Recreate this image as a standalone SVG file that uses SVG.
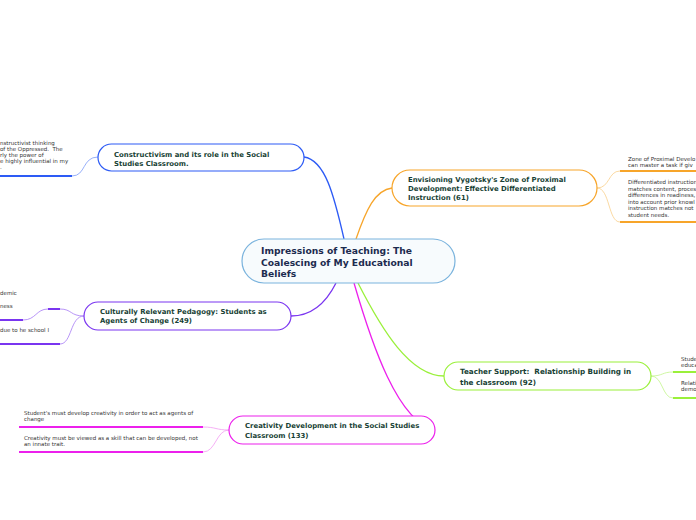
<svg xmlns="http://www.w3.org/2000/svg" width="696" height="520" viewBox="0 0 696 520">
<style>
text{white-space:pre}
.t{font-family:"DejaVu Sans",Verdana,sans-serif;font-weight:bold;font-size:6.9px;fill:#173f35}
.tb{font-size:7.2px}
.c{font-family:"DejaVu Sans",Verdana,sans-serif;font-weight:bold;font-size:9.2px;fill:#1c2b4f}
.s{font-family:"DejaVu Sans",Verdana,sans-serif;font-size:5.5px;fill:#333}
.n{fill:#fff;stroke-width:1.2}
.m{fill:none;stroke-width:1.3}
.u{fill:none;stroke-width:2}
.v{fill:none;stroke-width:0.8}
</style>
<rect width="696" height="520" fill="#fff"/>
<g id="connectors">
<path class="m" d="M344,239 C334,195 325,160 304,157" stroke="#2d5bf5"/>
<path class="m" d="M356,239 C366,210 375,190 392,188" stroke="#f7a52a"/>
<path class="m" d="M336,283 C325,305 310,316 291,316" stroke="#7a35f0"/>
<path class="m" d="M358,283 C382,330 410,376 444,376" stroke="#9af03a"/>
<path class="m" d="M354,283 C372,345 398,422 435,430" stroke="#ec20ec"/>
<path class="v" d="M98,157 C82,157 86,176 72,176" stroke="#7e9cf8"/>
<path class="u" d="M0,176 H72" stroke="#2d5bf5"/>
<path class="v" d="M597,188 C610,188 608,171 620,171" stroke="#f9cf8a"/>
<path class="v" d="M597,188 C610,188 608,222 620,222" stroke="#f9cf8a"/>
<path class="u" d="M620,171 H696" stroke="#f7a52a"/>
<path class="u" d="M620,222 H696" stroke="#f7a52a"/>
<path class="v" d="M84,316 C70,316 72,309 60,309" stroke="#a67af5"/>
<path class="u" d="M48,309 H60" stroke="#7a35f0"/>
<path class="v" d="M48,309 C36,309 36,320 23,320" stroke="#a67af5"/>
<path class="u" d="M0,320 H23" stroke="#7a35f0"/>
<path class="v" d="M84,316 C70,316 72,344 60,344" stroke="#a67af5"/>
<path class="u" d="M0,344 H60" stroke="#7a35f0"/>
<path class="v" d="M651,376 C663,376 662,372 673,372" stroke="#c3f58c"/>
<path class="v" d="M651,376 C663,376 662,398 673,398" stroke="#c3f58c"/>
<path class="u" d="M673,372 H696" stroke="#9af03a"/>
<path class="u" d="M673,398 H696" stroke="#9af03a"/>
<path class="v" d="M229,430 C216,430 216,427 203,427" stroke="#f39cf3"/>
<path class="v" d="M229,430 C216,430 216,452 203,452" stroke="#f39cf3"/>
<path class="u" d="M19,427 H203" stroke="#ec20ec"/>
<path class="u" d="M19,452 H203" stroke="#ec20ec"/>
</g>
<g id="center">
<rect x="242" y="239" width="213" height="44" rx="22" fill="#f7fbfd" stroke="#7ab3dd" stroke-width="1.2"/>
<text class="c" x="261" y="254">Impressions of Teaching: The</text>
<text class="c" x="261" y="265.5">Coalescing of My Educational</text>
<text class="c" x="261" y="277">Beliefs</text>
</g>
<g id="constructivism">
<rect class="n" x="98" y="144" width="206" height="27" rx="13.5" stroke="#2d5bf5"/>
<text class="t" x="114" y="157">Constructivism and its role in the Social</text>
<text class="t" x="114" y="165.5">Studies Classroom.</text>
</g>
<g id="constructivism-note">
<text class="s" x="0" y="145">nstructivist thinking</text>
<text class="s" x="0" y="151">of the Oppressed.  The</text>
<text class="s" x="0" y="157">rly the power of</text>
<text class="s" x="0" y="163">e highly influential in my</text>
<text class="s" x="0" y="169">.</text>
</g>
<g id="vygotsky">
<rect class="n" x="392" y="170" width="205" height="36" rx="18" stroke="#f7a52a"/>
<text class="t" x="408" y="182">Envisioning Vygotsky's Zone of Proximal</text>
<text class="t" x="408" y="191">Development: Effective Differentiated</text>
<text class="t" x="408" y="200">Instruction (61)</text>
</g>
<g id="vygotsky-notes">
<text class="s" x="628" y="161">Zone of Proximal Develo</text>
<text class="s" x="628" y="167">can master a task if giv</text>
<text class="s" x="628" y="184">Differentiated instruction</text>
<text class="s" x="628" y="190.5">matches content, proces</text>
<text class="s" x="628" y="197">differences in readiness,</text>
<text class="s" x="628" y="203.5">into account prior knowl</text>
<text class="s" x="628" y="210">instruction matches not</text>
<text class="s" x="628" y="216.5">student needs.</text>
</g>
<g id="culturally">
<rect class="n" x="84" y="302" width="207" height="28" rx="14" stroke="#7a35f0"/>
<text class="t" x="100" y="314">Culturally Relevant Pedagogy: Students as</text>
<text class="t" x="100" y="323">Agents of Change (249)</text>
</g>
<g id="culturally-notes">
<text class="s" x="0" y="295">demic</text>
<text class="s" x="0" y="308">ness</text>
<text class="s" x="0" y="332">due to he school I</text>
</g>
<g id="teacher">
<rect class="n" x="444" y="362" width="207" height="28" rx="14" stroke="#9af03a"/>
<text class="t tb" x="460" y="374">Teacher Support:  Relationship Building in</text>
<text class="t tb" x="460" y="384.5">the classroom (92)</text>
</g>
<g id="teacher-notes">
<text class="s" x="681" y="361">Stude</text>
<text class="s" x="681" y="367">educa</text>
<text class="s" x="681" y="385">Relati</text>
<text class="s" x="681" y="391">demo</text>
</g>
<g id="creativity">
<rect class="n" x="229" y="416" width="206" height="28" rx="14" stroke="#ec20ec"/>
<text class="t" x="245" y="428">Creativity Development in the Social Studies</text>
<text class="t" x="245" y="437.5">Classroom (133)</text>
</g>
<g id="creativity-notes">
<text class="s" x="24" y="415">Student's must develop creativity in order to act as agents of</text>
<text class="s" x="24" y="421">change</text>
<text class="s" x="24" y="440">Creativity must be viewed as a skill that can be developed, not</text>
<text class="s" x="24" y="446">an innate trait.</text>
</g>
</svg>
